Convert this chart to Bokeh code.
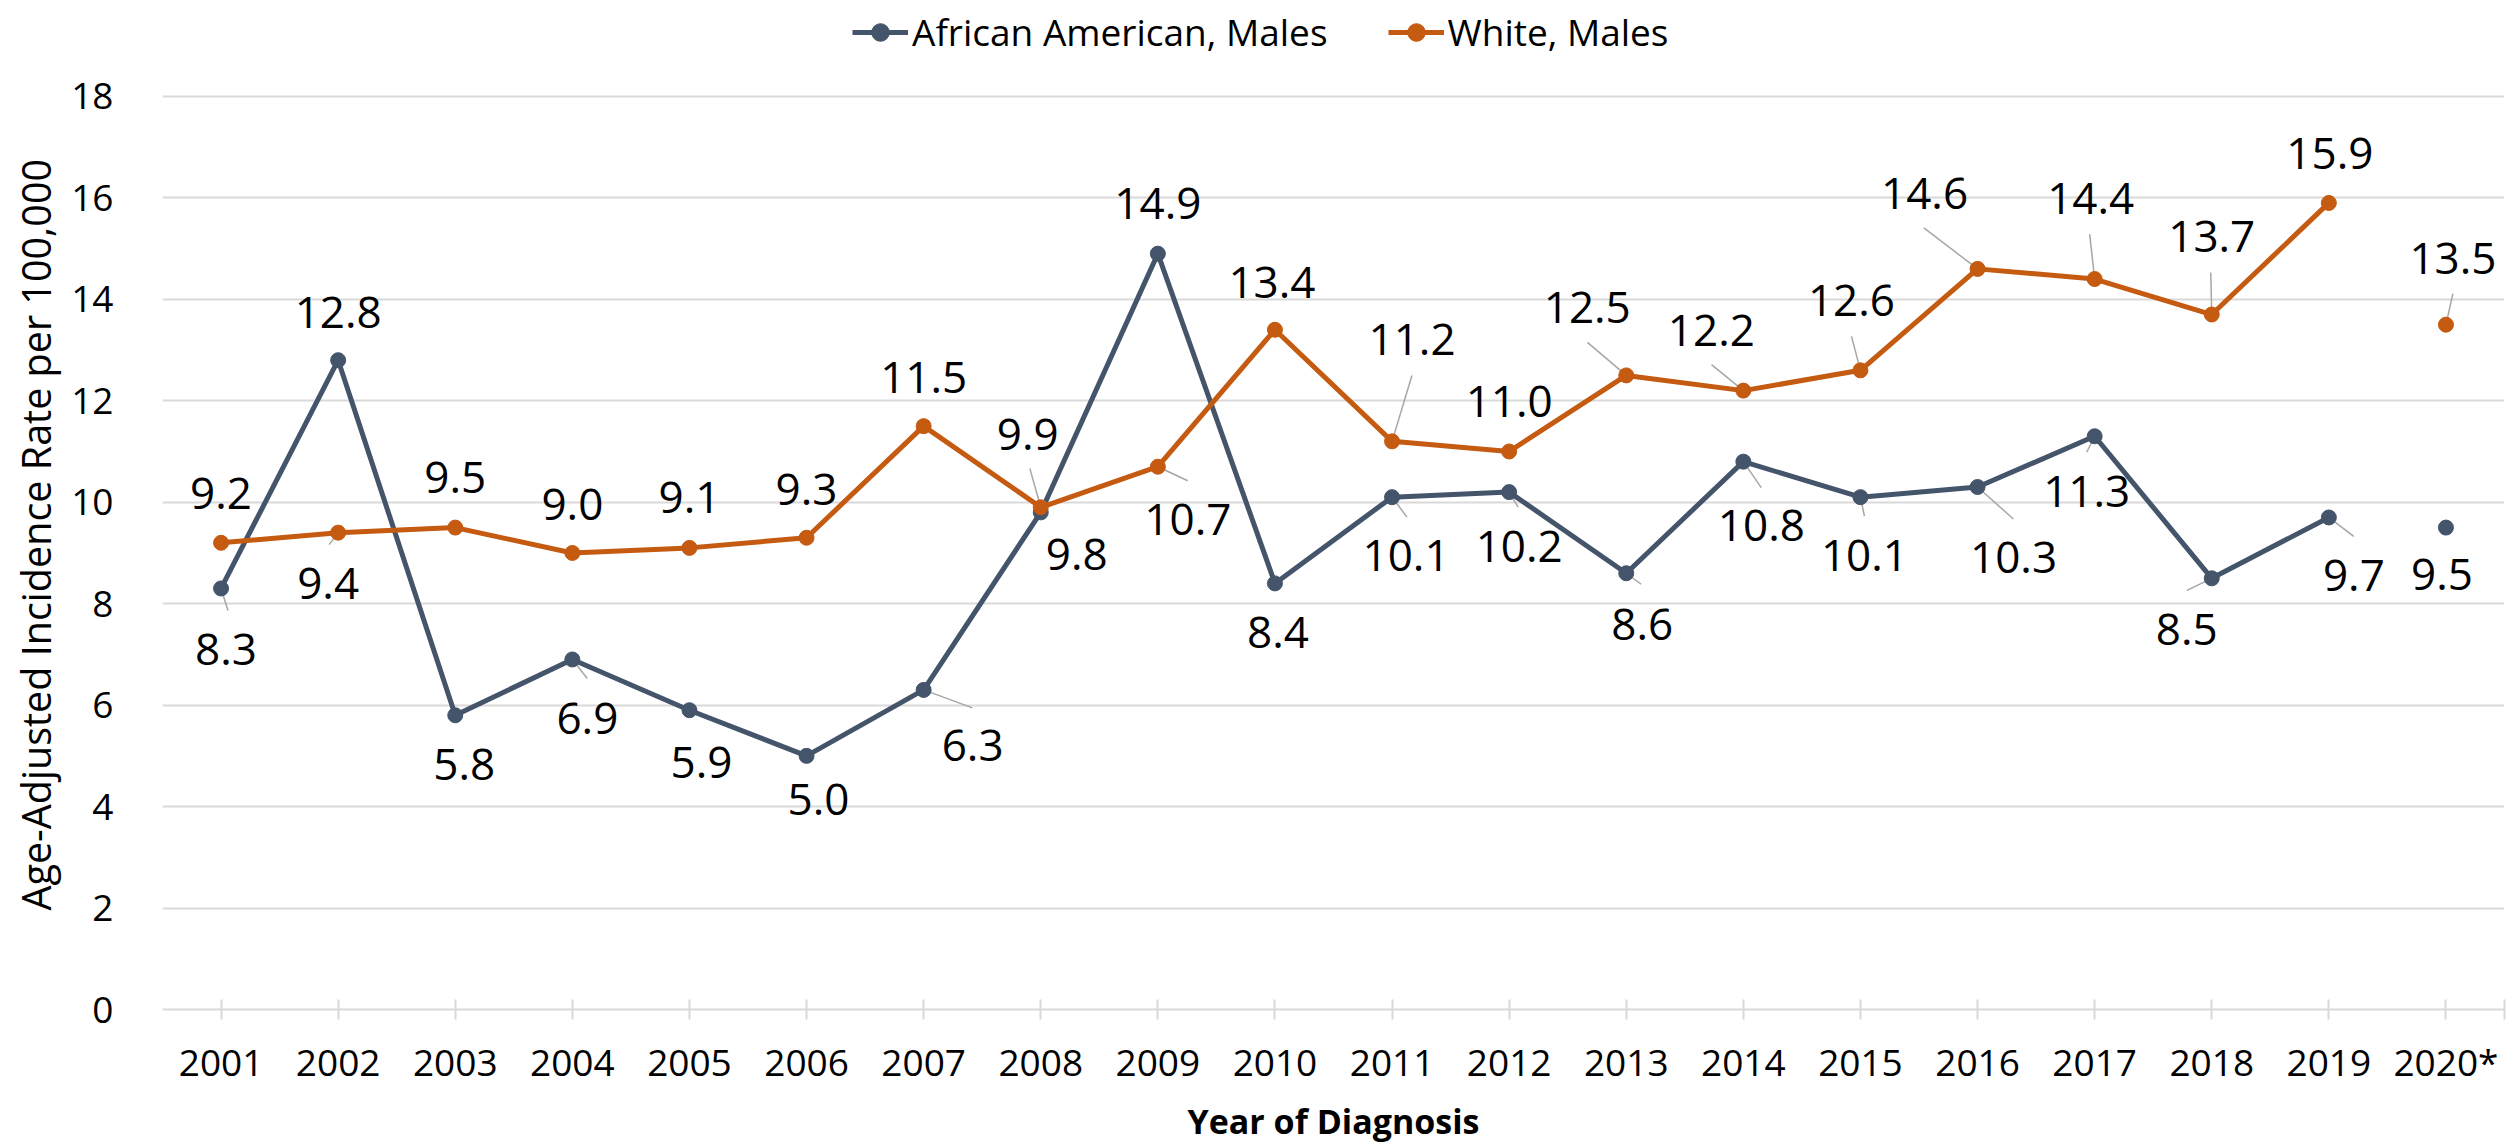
from bokeh.plotting import figure
from bokeh.models import (ColumnDataSource, FixedTicker, Legend, LegendItem, Range1d, Title)
from bokeh.core.properties import value
from bokeh.embed import file_html
from bokeh.resources import INLINE

# ---- data ----
years = ["2001", "2002", "2003", "2004", "2005", "2006", "2007", "2008", "2009", "2010",
         "2011", "2012", "2013", "2014", "2015", "2016", "2017", "2018", "2019", "2020*"]
african_american_males = [8.3, 12.8, 5.8, 6.9, 5.9, 5.0, 6.3, 9.8, 14.9, 8.4,
                          10.1, 10.2, 8.6, 10.8, 10.1, 10.3, 11.3, 8.5, 9.7, 9.5]
white_males = [9.2, 9.4, 9.5, 9.0, 9.1, 9.3, 11.5, 9.9, 10.7, 13.4,
               11.2, 11.0, 12.5, 12.2, 12.6, 14.6, 14.4, 13.7, 15.9, 13.5]
y_ticks = [0, 2, 4, 6, 8, 10, 12, 14, 16, 18]

# ---- label placement (screen px offsets from each point) ----
aa_label_dx = [5, 0, 9, 15, 12, 12, 49, 36, 0, 3, 14, 10, 16, 18, 4, 36, -8, -25, 25, -4]
aa_label_dy = [61, -48, 49, 59, 52, 44, 56, 42, -50, 49, 58, 54, 51, 64, 58, 70, 55, 51, 58, 47]
wm_label_dx = [0, -10, 0, 0, 0, 0, 0, -13, 30, -3, 20, 0, -39, -32, -9, -53, -4, 0, 1, 7]
wm_label_dy = [-49, 51, -50, -48, -50, -48, -49, -73, 53, -47, -102, -50, -68, -60, -70, -75, -81, -78, -49, -66]

# leader lines: index -> (dx, dy) of the far end, screen px from the point
aa_leaders = {0: (7, 22), 3: (15, 19), 6: (49, 18), 10: (15, 20), 11: (9, 15), 12: (15, 11),
              13: (18, 26), 14: (4, 19), 15: (36, 32), 16: (-8, 16), 17: (-25, 12), 18: (25, 19)}
wm_leaders = {1: (-9, 12), 7: (-11, -39), 8: (30, 14), 10: (20, -66), 12: (-39, -33),
              13: (-32, -26), 14: (-9, -34), 15: (-54, -41), 16: (-5, -45), 17: (-1, -42),
              19: (7, -31)}

AA_COLOR = "#44546A"
WM_COLOR = "#C55A11"
GRID = "#D9D9D9"
LEADER = "#A6A6A6"
FONT = "Open Sans"

W, H = 2506, 1146
B_LEFT, B_RIGHT, B_BOTTOM = 150, 2, 136
HEADROOM = 96          # px of frame above the top gridline, holds the legend
FRAME_W = W - B_LEFT - B_RIGHT
FRAME_H = H - B_BOTTOM

n = len(years)
xs = list(range(n))
x_lo, x_hi = -0.5, n - 0.5
y_lo = 0
y_hi = y_ticks[-1] * FRAME_H / (FRAME_H - HEADROOM)
px_x = FRAME_W / (x_hi - x_lo)
px_y = FRAME_H / (y_hi - y_lo)

p = figure(width=W, height=H, output_backend="svg", toolbar_location=None,
           x_range=Range1d(x_lo, x_hi), y_range=Range1d(y_lo, y_hi),
           min_border_left=B_LEFT, min_border_right=B_RIGHT,
           min_border_top=0, min_border_bottom=B_BOTTOM)
p.outline_line_color = None
p.background_fill_color = "white"
p.border_fill_color = "white"

# axes: tick marks at each year plus one closing the right end of the axis
p.xaxis.ticker = FixedTicker(ticks=xs, minor_ticks=[x_hi])
p.xaxis.major_label_overrides = {i: y for i, y in enumerate(years)}
for kind in ("major", "minor"):
    setattr(p.xaxis, f"{kind}_tick_line_color", GRID)
    setattr(p.xaxis, f"{kind}_tick_line_width", 2)
    setattr(p.xaxis, f"{kind}_tick_in", 10)
    setattr(p.xaxis, f"{kind}_tick_out", 10)
p.xaxis.axis_line_color = GRID
p.xaxis.axis_line_width = 2
p.xaxis.major_label_standoff = 16
p.xaxis.major_label_text_font = FONT
p.xaxis.major_label_text_font_size = "37px"
p.xaxis.major_label_text_color = "black"
p.xaxis.axis_label = "Year of Diagnosis"
p.xaxis.axis_label_text_font = FONT
p.xaxis.axis_label_text_font_style = "bold"
p.xaxis.axis_label_text_font_size = "34px"
p.xaxis.axis_label_text_color = "black"
p.xaxis.axis_label_standoff = 8

p.yaxis.ticker = FixedTicker(ticks=y_ticks)
p.yaxis.axis_line_color = None
p.yaxis.major_tick_line_color = None
p.yaxis.minor_tick_line_color = None
p.yaxis.major_label_standoff = 43
p.yaxis.major_label_text_font = FONT
p.yaxis.major_label_text_font_size = "37px"
p.yaxis.major_label_text_color = "black"

# vertical axis title, started ~99 px above the frame bottom
y_title = Title(text="Age-Adjusted Incidence Rate per 100,000", align="left",
                offset=99, standoff=12, text_font=FONT, text_font_style="normal",
                text_font_size="39.5px", text_color="black")
p.add_layout(y_title, "left")

p.xgrid.grid_line_color = None
p.ygrid.grid_line_color = GRID
p.ygrid.grid_line_width = 2

# leader lines
def leader_source(vals, leaders):
    x0, y0, x1, y1 = [], [], [], []
    for i, (dx, dy) in leaders.items():
        x0.append(xs[i]); y0.append(vals[i])
        x1.append(xs[i] + dx / px_x); y1.append(vals[i] - dy / px_y)
    return ColumnDataSource(dict(x0=x0, y0=y0, x1=x1, y1=y1))

for vals, leaders in ((african_american_males, aa_leaders), (white_males, wm_leaders)):
    p.segment("x0", "y0", "x1", "y1", source=leader_source(vals, leaders),
              line_color=LEADER, line_width=1.5)

# series: 2001-2019 joined, 2020* stands alone
last = n - 1
aa_line = p.line(xs[:last], african_american_males[:last], line_color=AA_COLOR, line_width=5)
wm_line = p.line(xs[:last], white_males[:last], line_color=WM_COLOR, line_width=5)
aa_pts = p.scatter(xs, african_american_males, size=15, fill_color=AA_COLOR, line_color=AA_COLOR)
wm_pts = p.scatter(xs, white_males, size=15, fill_color=WM_COLOR, line_color=WM_COLOR)

# value labels
for vals, dx, dy in ((african_american_males, aa_label_dx, aa_label_dy),
                     (white_males, wm_label_dx, wm_label_dy)):
    src = ColumnDataSource(dict(x=xs, y=vals, t=[f"{v:.1f}" for v in vals], dx=dx, dy=dy))
    p.text("x", "y", text="t", x_offset="dx", y_offset="dy", source=src,
           text_align="center", text_baseline="middle", text_font=value(FONT),
           text_font_size="44px", text_color="black")

legend = Legend(items=[LegendItem(label="African American, Males", renderers=[aa_line, aa_pts]),
                       LegendItem(label="White, Males", renderers=[wm_line, wm_pts])],
                location=(690, 952), orientation="horizontal")
legend.padding = 0
legend.margin = 0
legend.spacing = 60
legend.label_standoff = 4
legend.glyph_width = 56
legend.glyph_height = 44
legend.label_height = 44
legend.label_text_font = FONT
legend.label_text_font_size = "37px"
legend.label_text_color = "black"
legend.border_line_color = None
legend.background_fill_alpha = 0
p.add_layout(legend, "center")

open("out.html", "w").write(file_html(p, INLINE))
